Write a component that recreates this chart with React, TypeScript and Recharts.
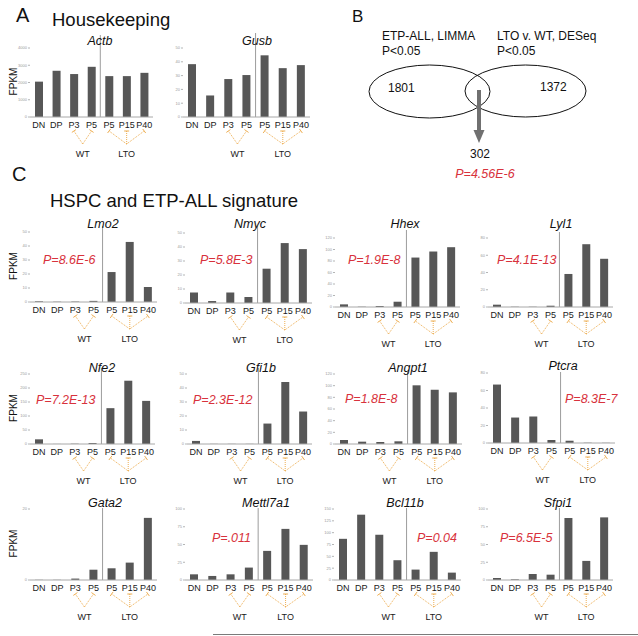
import React from 'react';
import { BarChart, Bar, XAxis, YAxis, ReferenceLine } from 'recharts';

const FONT = '"Liberation Sans", Arial, Helvetica, sans-serif';
const RED = '#d8323c';
const ORANGE = '#eba53f';
const BAR = '#575757';

// categories on every x axis
const cellKeys = ['DN', 'DP', 'WT_P3', 'WT_P5', 'LTO_P5', 'LTO_P15', 'LTO_P40'];
const cellLabels = ['DN', 'DP', 'P3', 'P5', 'P5', 'P15', 'P40'];
const groupNames = ['WT', 'LTO'];
const groupMembers = [[2, 3], [4, 5, 6]];

// FPKM values
const actb = [2050, 2680, 2490, 2910, 2370, 2370, 2560];
const gusb = [38.3, 15.6, 27.5, 30.4, 44.7, 35.4, 37.6];
const lmo2 = [0.5, 0.2, 0.3, 0.8, 21.4, 42.9, 10.7];
const nmyc = [7.5, 1.4, 7.5, 4.3, 24.5, 42.8, 38.5];
const hhex = [4.6, 0.5, 1.7, 9.2, 86, 96.5, 104];
const lyl1 = [2.7, 0.3, 0.2, 1.5, 38.3, 72.8, 55.9];
const nfe2 = [16.7, 0.3, 1, 3.6, 128, 226, 154];
const gfi1b = [2.2, 0.1, 0.1, 0.1, 14.6, 44.3, 23.2];
const angpt1 = [6.9, 4, 3.4, 4.6, 100.6, 93, 88.5];
const ptcra = [66.8, 29.1, 30.2, 3.4, 2.6, 0.3, 0.2];
const gata2 = [0.05, 0.05, 0.4, 2.9, 3.3, 4.9, 17.5];
const mettl7a1 = [8, 5.7, 8, 17.5, 41, 72, 49.5];
const bcl11b = [87, 138, 95.6, 41.8, 22, 59.5, 15.6];
const sfpi1 = [2.8, 0.9, 8.5, 7.5, 87.3, 26.9, 88.2];

// y tick labels
const actbTicks = [0, 1000, 2000, 3000, 4000];
const ticks50 = [0, 10, 20, 30, 40, 50];
const ticks120 = [0, 20, 40, 60, 80, 100, 120];
const ticks80 = [0, 10, 20, 30, 40, 50, 60, 70, 80];
const nfe2Ticks = [0, 50, 100, 150, 200, 250];
const gata2Ticks = [0, 20];
const ticks100 = [0, 25, 50, 75, 100];
const bcl11bTicks = [0, 25, 50, 75, 100, 125, 150];

// venn numbers
const vennLeft = 1801;
const vennRight = 1372;
const vennBoth = 302;

type Panel = {
  gene: string;
  values: number[];
  ticks: number[];
  left: number;
  right: number;
  lineTop: number;
  tickTop: number;
  base: number;
  titleX: number;
  titleY: number;
  fpkm?: boolean;
  pval?: string;
  pX?: number;
  pY?: number;
};

const panels: Panel[] = [
  { gene: 'Actb', values: actb, ticks: actbTicks, left: 30, right: 153, lineTop: 35, tickTop: 48, base: 117, titleX: 100, titleY: 40, fpkm: true },
  { gene: 'Gusb', values: gusb, ticks: ticks50, left: 183, right: 310, lineTop: 33, tickTop: 48, base: 117, titleX: 257, titleY: 40 },
  { gene: 'Lmo2', values: lmo2, ticks: ticks50, left: 30, right: 157, lineTop: 226, tickTop: 232, base: 302, titleX: 103, titleY: 223, fpkm: true, pval: 'P=8.6E-6', pX: 43, pY: 259 },
  { gene: 'Nmyc', values: nmyc, ticks: ticks50, left: 185, right: 312, lineTop: 226, tickTop: 233, base: 303, titleX: 250, titleY: 223, pval: 'P=5.8E-3', pX: 200, pY: 259 },
  { gene: 'Hhex', values: hhex, ticks: ticks120, left: 335, right: 460, lineTop: 230, tickTop: 238, base: 307, titleX: 405, titleY: 223, pval: 'P=1.9E-8', pX: 348, pY: 259 },
  { gene: 'Lyl1', values: lyl1, ticks: ticks80, left: 488, right: 613, lineTop: 232, tickTop: 238, base: 307, titleX: 561, titleY: 223, pval: 'P=4.1E-13', pX: 497, pY: 259 },
  { gene: 'Nfe2', values: nfe2, ticks: nfe2Ticks, left: 30, right: 155, lineTop: 368, tickTop: 374, base: 444, titleX: 102, titleY: 367, fpkm: true, pval: 'P=7.2E-13', pX: 36, pY: 399 },
  { gene: 'Gfi1b', values: gfi1b, ticks: ticks50, left: 187, right: 312, lineTop: 368, tickTop: 374, base: 444, titleX: 261, titleY: 367, pval: 'P=2.3E-12', pX: 193, pY: 399 },
  { gene: 'Angpt1', values: angpt1, ticks: ticks120, left: 335, right: 462, lineTop: 372, tickTop: 374, base: 444, titleX: 408, titleY: 367, pval: 'P=1.8E-8', pX: 345, pY: 398 },
  { gene: 'Ptcra', values: ptcra, ticks: ticks80, left: 488, right: 615, lineTop: 372, tickTop: 373, base: 443, titleX: 563, titleY: 365, pval: 'P=8.3E-7', pX: 565, pY: 398 },
  { gene: 'Gata2', values: gata2, ticks: gata2Ticks, left: 30, right: 157, lineTop: 508, tickTop: 509, base: 580, titleX: 105, titleY: 502, fpkm: true },
  { gene: 'Mettl7a1', values: mettl7a1, ticks: ticks100, left: 185, right: 313, lineTop: 508, tickTop: 509, base: 580, titleX: 266, titleY: 502, pval: 'P=.011', pX: 212, pY: 537 },
  { gene: 'Bcl11b', values: bcl11b, ticks: bcl11bTicks, left: 334, right: 461, lineTop: 508, tickTop: 509, base: 580, titleX: 405, titleY: 502, pval: 'P=0.04', pX: 417, pY: 537 },
  { gene: 'Sfpi1', values: sfpi1, ticks: ticks100, left: 488, right: 613, lineTop: 508, tickTop: 509, base: 580, titleX: 558, titleY: 502, pval: 'P=6.5E-5', pX: 500, pY: 537 },
];

const YW = 16;
const MT = 4;
const MR = 4;
const XH = 46;

// x tick: cell label plus the dotted arrow down to its WT / LTO group name
function CellTick(props: any) {
  const { x, y, payload, band } = props;
  const i = cellKeys.indexOf(payload.value);
  const g = groupMembers.findIndex((m) => m.includes(i));
  let arrow = null;
  if (g >= 0) {
    const members = groupMembers[g];
    const center = (members[0] + members[members.length - 1]) / 2;
    const tx = x + (center - i) * band;
    const ty = y + 27;
    const ex = x;
    const ey = y + 14;
    const dx = ex - tx;
    const dy = ey - ty;
    const len = Math.hypot(dx, dy) || 1;
    const px = (-dy / len) * 2.5;
    const py = (dx / len) * 2.5;
    arrow = (
      <g>
        <line x1={tx} y1={ty} x2={ex} y2={ey} stroke={ORANGE} strokeWidth={0.9} strokeDasharray="1 1" />
        <line x1={ex + px} y1={ey + py} x2={ex - px} y2={ey - py} stroke={ORANGE} strokeWidth={0.9} />
        {i === members[0] && (
          <text x={tx} y={y + 40} textAnchor="middle" fontSize={9} fill="#1a1a1a" fontFamily={FONT}>
            {groupNames[g]}
          </text>
        )}
      </g>
    );
  }
  return (
    <g>
      <text x={x} y={y + 10.5} textAnchor="middle" fontSize={9} fill="#1a1a1a" fontFamily={FONT}>
        {cellLabels[i]}
      </text>
      {arrow}
    </g>
  );
}

function GeneChart({ p }: { p: Panel }) {
  const plotW = p.right - p.left;
  const plotH = p.base - p.lineTop;
  const band = plotW / cellKeys.length;
  const topTick = p.ticks[p.ticks.length - 1];
  const max = (topTick * (p.base - p.lineTop)) / (p.base - p.tickTop);
  const data = cellKeys.map((k, i) => ({ key: k, v: p.values[i] }));

  return (
    <div style={{ position: 'absolute', left: p.left - YW, top: p.lineTop - MT }}>
      <BarChart
        width={YW + plotW + MR}
        height={MT + plotH + XH}
        data={data}
        margin={{ top: MT, right: MR, left: 0, bottom: 0 }}
      >
        <XAxis
          dataKey="key"
          interval={0}
          height={XH}
          axisLine={{ stroke: '#a8a8a8' }}
          tickLine={false}
          tickSize={0}
          tickMargin={0}
          tick={(t: any) => <CellTick {...t} band={band} />}
        />
        <YAxis
          width={YW}
          domain={[0, max]}
          ticks={p.ticks}
          axisLine={false}
          tickSize={2}
          tickMargin={1}
          tickLine={{ stroke: '#b5b5b5' }}
          tick={{ fontSize: 4, fill: '#9a9a9a', fontFamily: FONT }}
        />
        <ReferenceLine x="LTO_P5" position="start" stroke="#9c9c9c" strokeWidth={1} />
        <Bar dataKey="v" fill={BAR} barSize={8} isAnimationActive={false} />
      </BarChart>
    </div>
  );
}

export default function App() {
  return (
    <div style={{ position: 'absolute', left: 0, top: 0, width: 638, height: 636, background: '#fff', overflow: 'hidden' }}>
      {panels.map((p) => (
        <GeneChart key={p.gene} p={p} />
      ))}

      <svg width={638} height={636} style={{ position: 'absolute', left: 0, top: 0, pointerEvents: 'none' }} fontFamily={FONT}>
        {/* panel headings */}
        <text x={16} y={22} fontSize={20} fill="#111">A</text>
        <text x={52} y={26} fontSize={18.5} fill="#111">Housekeeping</text>
        <text x={352} y={22} fontSize={17} fill="#111">B</text>
        <text x={12} y={181} fontSize={20} fill="#111">C</text>
        <text x={50} y={207} fontSize={18.5} fill="#111">HSPC and ETP-ALL signature</text>

        {/* gene titles, FPKM labels, p-values */}
        {panels.map((p) => (
          <g key={p.gene}>
            <text x={p.titleX} y={p.titleY + 4.5} textAnchor="middle" fontSize={12.5} fontStyle="italic" fill="#111">
              {p.gene}
            </text>
            {p.fpkm && (
              <text
                transform={`translate(13.5, ${(p.tickTop + p.base) / 2 - 1}) rotate(-90)`}
                y={3.6}
                textAnchor="middle"
                fontSize={10}
                fill="#111"
              >
                FPKM
              </text>
            )}
            {p.pval && (
              <text x={p.pX} y={(p.pY as number) + 4.5} fontSize={12.5} fontStyle="italic" fill={RED}>
                {p.pval}
              </text>
            )}
          </g>
        ))}

        {/* Venn diagram */}
        <g transform="translate(340,0)">
          <text x={42} y={40.3} fontSize={12} fill="#111">ETP-ALL, LIMMA</text>
          <text x={42} y={55.3} fontSize={12} fill="#111">P&lt;0.05</text>
          <text x={157} y={40.3} fontSize={12} fill="#111">LTO v. WT, DESeq</text>
          <text x={157} y={55.3} fontSize={12} fill="#111">P&lt;0.05</text>
          <ellipse cx={89.5} cy={91.5} rx={60.5} ry={26.5} fill="none" stroke="#111" strokeWidth={1} />
          <ellipse cx={185.5} cy={91} rx={60.5} ry={26} fill="none" stroke="#111" strokeWidth={1} />
          <text x={48} y={92.3} fontSize={12} fill="#111">{vennLeft}</text>
          <text x={200} y={91.3} fontSize={12} fill="#111">{vennRight}</text>
          <line x1={139} y1={90} x2={139} y2={131} stroke="#707070" strokeWidth={4} />
          <polygon points="133.5,130 144.5,130 139,143" fill="#707070" />
          <text x={140} y={158.3} textAnchor="middle" fontSize={12} fill="#111">{vennBoth}</text>
          <text x={145} y={177.5} textAnchor="middle" fontSize={12.5} fontStyle="italic" fill={RED}>P=4.56E-6</text>
        </g>

        <line x1={213} y1={634.5} x2={638} y2={634.5} stroke="#7a7a7a" strokeWidth={1} />
      </svg>
    </div>
  );
}
